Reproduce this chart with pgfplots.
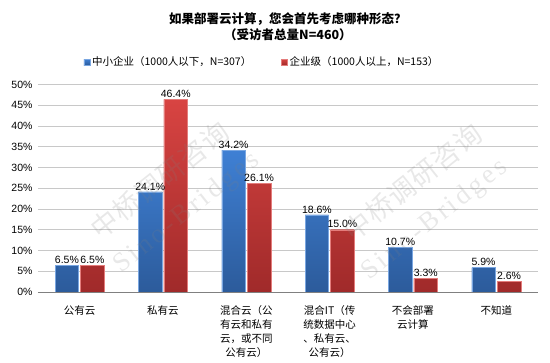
\documentclass[border=0pt]{standalone}
\usepackage{pgfplots}
\pgfplotsset{compat=1.18}
\usepackage{fontspec}
\setmainfont{Liberation Sans}
\newfontfamily\cjk{Noto Sans CJK SC}
\newfontfamily\wmserif[LetterSpace=12]{Liberation Serif}
\newfontfamily\wmcjk[LetterSpace=4]{Noto Sans CJK SC}
\definecolor{bluetop}{HTML}{3F80D4}
\definecolor{bluebot}{HTML}{2C5B9B}
\definecolor{redtop}{HTML}{D84442}
\definecolor{redbot}{HTML}{A02A2A}
\definecolor{gridc}{HTML}{C8C8C8}
\begin{document}
\begin{tikzpicture}[x=1pt,y=1pt]
\useasboundingbox (-38,-71) rectangle (512,292);
\begin{axis}[
  at={(0,0)}, anchor=origin,
  scale only axis, width=500pt, height=207.5pt,
  ybar, bar width=23.5pt,
  xmin=0.5, xmax=6.5, ymin=0, ymax=50,
  xtick={1,2,3,4,5,6},
  xticklabels={公有云,私有云,{混合云（公\\有云和私有\\云，或不同\\公有云）},{混合IT（传\\统数据中心\\、私有云、\\公有云）},{不会部署\\云计算},不知道},
  xticklabel style={align=center, font=\cjk\fontsize{10.5}{14}\selectfont, yshift=-6pt},
  x tick style={draw=none},
  major tick length=4pt,
  extra x ticks={0.5,1.5,2.5,3.5,4.5,5.5,6.5},
  extra x tick labels={},
  extra x tick style={tick style={draw=gray}, tick align=outside, grid=none},
  ytick={0,5,...,50},
  yticklabel={\pgfmathprintnumber{\tick}\%},
  yticklabel style={font=\fontsize{10.5}{12}\selectfont, xshift=-2pt},
  y tick style={draw=none},
  ymajorgrids, grid style={gridc, line width=0.8pt},
  axis x line*=bottom, axis y line*=left,
  x axis line style={draw=gray, line width=0.8pt, -},
  y axis line style={draw=none},
  /pgf/number format/assume math mode=true,
  nodes near coords={\pgfmathprintnumber[fixed,precision=1,fixed zerofill]{\pgfplotspointmeta}\%},
  every node near coord/.append style={font=\fontsize{10.5}{12}\selectfont, black, inner sep=1.5pt},
  legend columns=2,
  legend style={at={(axis description cs:0.085,1.108)}, anchor=west, draw=none, fill=none,
    font=\cjk\fontsize{10.5}{12}\selectfont, /tikz/every even column/.append style={column sep=28pt}},
  legend image code/.code={\fill[#1] (0pt,-3pt) rectangle (6pt,3pt);},
]
\addplot[draw=bluetop!70!white, line width=0.4pt, top color=bluetop, bottom color=bluebot, fill=bluetop] coordinates {(1,6.5) (2,24.1) (3,34.2) (4,18.6) (5,10.7) (6,5.9)};
\addlegendentry{中小企业（1000人以下，N=307）}
\addplot[draw=redtop!70!white, line width=0.4pt, top color=redtop, bottom color=redbot, fill=redtop] coordinates {(1,6.5) (2,46.4) (3,26.1) (4,15.0) (5,3.3) (6,2.6)};
\addlegendentry{企业级（1000人以上，N=153）}
\end{axis}
% watermarks (faint, on top)
\begin{scope}[opacity=0.18]
\node[rotate=38.5, font=\wmcjk\fontsize{27}{27}\selectfont, text=gray] at (122,112) {中桥调研咨询};
\node[rotate=38.5, font=\wmserif\fontsize{27}{27}\selectfont, text=gray] at (149,79) {Sino-Bridges};
\node[rotate=38.5, font=\wmcjk\fontsize{27}{27}\selectfont, text=gray] at (375,110) {中桥调研咨询};
\node[rotate=38.5, font=\wmserif\fontsize{27}{27}\selectfont, text=gray] at (397,72) {Sino-Bridges};
\end{scope}
% title
\node[font=\cjk\bfseries\fontsize{12.5}{16}\selectfont, align=center] at (250,265) {如果部署云计算，您会首先考虑哪种形态？\\（受访者总量N=460）};
\end{tikzpicture}
\end{document}
